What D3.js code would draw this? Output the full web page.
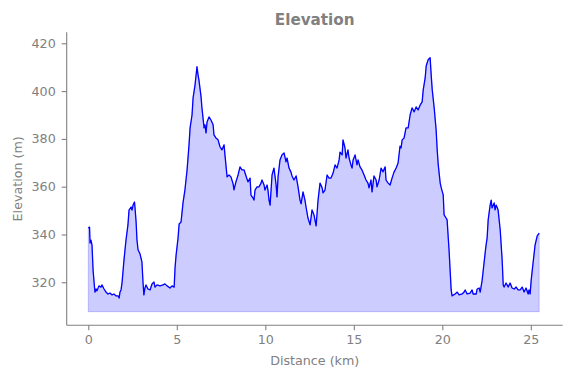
<!DOCTYPE html>
<html>
<head>
    <script src="https://d3js.org/d3.v7.min.js"></script>
    <style>
        body { margin: 0; background: #fff; }
        text { font-family: "DejaVu Sans", sans-serif; fill: #808080; }
    </style>
</head>
<body>
    <div id="chart"></div>
    <script>
        // distance along the route (km) and elevation (m)
        var distKm = [0.00, 0.07, 0.10, 0.15, 0.21, 0.27, 0.35, 0.38, 0.44, 0.49, 0.60, 0.72, 0.77, 0.89, 1.00,
            1.11, 1.23, 1.34, 1.45, 1.57, 1.68, 1.74, 1.79, 1.85, 1.91, 2.02, 2.13, 2.24, 2.30, 2.42,
            2.47, 2.53, 2.61, 2.64, 2.70, 2.75, 2.81, 2.92, 3.03, 3.09, 3.14, 3.20, 3.26, 3.37, 3.49,
            3.60, 3.71, 3.77, 3.88, 4.05, 4.22, 4.33, 4.45, 4.62, 4.73, 4.85, 4.90, 4.96, 5.07, 5.13,
            5.24, 5.35, 5.46, 5.58, 5.69, 5.75, 5.86, 5.92, 6.03, 6.14, 6.20, 6.25, 6.37, 6.42, 6.54,
            6.59, 6.65, 6.71, 6.82, 6.93, 7.05, 7.10, 7.21, 7.33, 7.44, 7.55, 7.67, 7.72, 7.84, 7.95,
            8.06, 8.18, 8.23, 8.34, 8.46, 8.57, 8.68, 8.80, 8.91, 9.02, 9.14, 9.19, 9.31, 9.36, 9.42,
            9.53, 9.64, 9.76, 9.81, 9.93, 9.98, 10.10, 10.15, 10.21, 10.27, 10.38, 10.49, 10.61, 10.66, 10.72,
            10.83, 10.94, 11.06, 11.17, 11.23, 11.34, 11.45, 11.51, 11.62, 11.74, 11.85, 11.96, 12.02, 12.13, 12.24,
            12.30, 12.41, 12.53, 12.64, 12.75, 12.87, 12.98, 13.09, 13.21, 13.26, 13.37, 13.49, 13.60, 13.71, 13.83,
            13.94, 14.05, 14.17, 14.22, 14.34, 14.39, 14.50, 14.56, 14.67, 14.73, 14.84, 14.90, 14.96, 15.07, 15.18,
            15.24, 15.35, 15.46, 15.58, 15.69, 15.80, 15.86, 15.97, 16.03, 16.14, 16.26, 16.31, 16.43, 16.54, 16.65,
            16.77, 16.82, 16.94, 17.05, 17.16, 17.27, 17.39, 17.50, 17.61, 17.67, 17.73, 17.84, 17.95, 18.07, 18.18,
            18.29, 18.41, 18.52, 18.63, 18.75, 18.86, 18.92, 19.03, 19.09, 19.20, 19.31, 19.37, 19.43, 19.54, 19.65,
            19.71, 19.77, 19.88, 19.94, 20.05, 20.10, 20.21, 20.27, 20.38, 20.44, 20.50, 20.55, 20.72, 20.84, 20.95,
            21.12, 21.23, 21.29, 21.40, 21.57, 21.68, 21.74, 21.91, 21.97, 22.08, 22.14, 22.25, 22.36, 22.47, 22.53,
            22.59, 22.70, 22.76, 22.81, 22.93, 22.98, 23.04, 23.15, 23.27, 23.38, 23.44, 23.49, 23.60, 23.72, 23.83,
            23.94, 24.06, 24.17, 24.28, 24.40, 24.51, 24.62, 24.73, 24.85, 24.90, 24.96, 25.02, 25.13, 25.24, 25.36,
            25.47];
        var elevM = [342.7, 343.1, 336.4, 337.6, 335.5, 325.1, 318.0, 315.9, 317.2, 316.4, 318.5, 318.0, 318.9, 317.2, 315.9,
            315.1, 315.5, 314.7, 315.1, 314.3, 314.3, 313.4, 315.9, 316.8, 320.1, 329.7, 337.7, 344.0, 350.2, 351.5,
            350.2, 352.3, 353.6, 351.1, 345.3, 337.7, 333.6, 331.9, 328.5, 320.1, 314.7, 317.6, 318.9, 317.2, 316.8,
            319.3, 320.1, 318.0, 318.9, 318.5, 318.9, 319.3, 318.5, 317.6, 318.5, 318.0, 326.0, 331.4, 338.5, 344.4,
            345.2, 353.2, 358.7, 367.0, 377.5, 384.6, 390.0, 397.2, 402.6, 410.2, 406.8, 404.7, 397.6, 393.0, 384.6,
            385.9, 382.5, 387.1, 389.2, 387.9, 385.9, 381.7, 380.4, 379.6, 376.7, 375.4, 377.5, 373.3, 364.1, 364.9,
            364.1, 361.2, 358.7, 362.0, 364.9, 368.3, 367.0, 367.0, 364.5, 362.0, 363.6, 356.5, 355.2, 354.4, 358.6,
            359.9, 359.9, 361.5, 362.8, 360.7, 358.6, 360.7, 358.6, 354.4, 352.3, 364.9, 367.8, 360.7, 355.7, 364.1,
            371.2, 373.3, 374.1, 370.4, 372.0, 367.8, 366.1, 364.5, 362.8, 364.5, 359.9, 354.4, 352.8, 357.8, 354.4,
            351.5, 346.9, 344.0, 350.3, 348.2, 343.6, 354.4, 361.5, 359.5, 357.4, 358.6, 364.9, 363.6, 363.6, 365.7,
            369.1, 367.8, 371.2, 374.5, 373.3, 379.6, 376.3, 372.0, 375.4, 372.0, 369.1, 367.8, 371.2, 373.3, 369.1,
            371.2, 368.3, 367.0, 364.9, 362.8, 361.5, 359.5, 362.8, 357.8, 364.5, 362.8, 359.9, 362.8, 367.8, 366.2,
            368.3, 362.8, 361.5, 360.7, 363.6, 366.1, 367.8, 369.9, 377.0, 376.2, 379.6, 380.4, 384.6, 384.6, 390.0,
            393.0, 391.3, 393.4, 392.1, 394.2, 395.5, 400.5, 405.5, 410.6, 413.1, 414.0, 406.8, 400.5, 393.0, 383.7,
            375.4, 369.1, 361.5, 359.5, 356.6, 348.2, 346.9, 346.1, 333.5, 325.1, 316.8, 314.3, 315.1, 315.9, 314.7,
            315.1, 315.9, 316.8, 315.1, 315.5, 316.8, 315.1, 315.1, 317.2, 317.6, 315.9, 320.9, 328.4, 335.6, 338.5,
            346.1, 352.3, 354.4, 351.1, 353.2, 350.3, 352.3, 350.3, 341.9, 329.3, 318.9, 318.0, 319.7, 318.0, 319.7,
            317.6, 317.2, 318.0, 316.8, 316.8, 318.0, 315.9, 317.6, 315.1, 316.8, 315.1, 320.9, 328.4, 335.6, 339.4,
            340.6];
        var xTicks = [0, 5, 10, 15, 20, 25];
        var yTicks = [320, 340, 360, 380, 400, 420];
        var fillBase = 307.7;

        var W = 571, H = 378;
        var mLeft = 66.7, mRight = 562.7, mTop = 32.3, mBottom = 325.3;

        var svg = d3.select("#chart")
            .append("svg")
            .attr("width", W)
            .attr("height", H);

        var x = d3.scaleLinear().domain([-1.22, 26.8]).range([mLeft, mRight]);
        var y = d3.scaleLinear().domain([302, 424.6]).range([mBottom, mTop]);

        var pts = distKm.map(function (d, i) { return [d, elevM[i]]; });

        var area = d3.area()
            .x(function (d) { return x(d[0]); })
            .y0(y(fillBase))
            .y1(function (d) { return y(d[1]); });

        var line = d3.line()
            .x(function (d) { return x(d[0]); })
            .y(function (d) { return y(d[1]); });

        svg.append("path")
            .datum(pts)
            .attr("d", area)
            .attr("fill", "rgba(0,0,255,0.2)")
            .attr("stroke", "rgba(0,0,255,0.2)")
            .attr("stroke-width", 1);

        svg.append("path")
            .datum(pts)
            .attr("d", line)
            .attr("fill", "none")
            .attr("stroke", "#0000ff")
            .attr("stroke-width", 1.3)
            .attr("stroke-linejoin", "round");

        // axes, top and right spines hidden
        var xAxis = svg.append("g")
            .attr("transform", "translate(0," + mBottom + ")")
            .call(d3.axisBottom(x).tickValues(xTicks).tickSize(5).tickPadding(5).tickSizeOuter(0));
        var yAxis = svg.append("g")
            .attr("transform", "translate(" + mLeft + ",0)")
            .call(d3.axisLeft(y).tickValues(yTicks).tickSize(5).tickPadding(6).tickSizeOuter(0));

        [xAxis, yAxis].forEach(function (g) {
            g.select(".domain").attr("stroke", "#808080").attr("stroke-width", 1.1);
            g.selectAll(".tick line").attr("stroke", "#808080").attr("stroke-width", 1.1);
            g.selectAll(".tick text").style("font-size", "12.7px").attr("fill", "#808080");
        });
        yAxis.select(".domain").attr("d", "M0," + mTop + "V" + mBottom);
        xAxis.select(".domain").attr("d", "M" + mLeft + ",0H" + mRight);

        svg.append("text")
            .attr("x", (mLeft + mRight) / 2)
            .attr("y", 24.5)
            .attr("text-anchor", "middle")
            .style("font-size", "15.2px")
            .style("font-weight", "bold")
            .text("Elevation");

        svg.append("text")
            .attr("x", (mLeft + mRight) / 2)
            .attr("y", 365)
            .attr("text-anchor", "middle")
            .style("font-size", "12.7px")
            .text("Distance (km)");

        svg.append("text")
            .attr("transform", "translate(21.5," + (mTop + mBottom) / 2 + ") rotate(-90)")
            .attr("text-anchor", "middle")
            .style("font-size", "12.7px")
            .text("Elevation (m)");
    </script>
</body>
</html>
